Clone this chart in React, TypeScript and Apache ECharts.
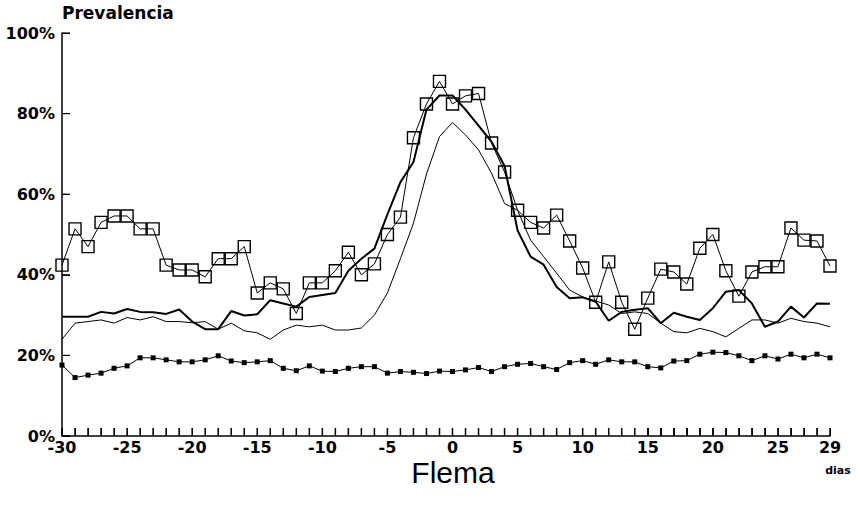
import React, { useEffect, useRef } from "react";
import * as echarts from "echarts";

const days = [-30,-29,-28,-27,-26,-25,-24,-23,-22,-21,-20,-19,-18,-17,-16,-15,-14,-13,-12,-11,-10,-9,-8,-7,-6,-5,-4,-3,-2,-1,0,1,2,3,4,5,6,7,8,9,10,11,12,13,14,15,16,17,18,19,20,21,22,23,24,25,26,27,28,29];

const squareValues = [42.4,51.4,47,53,54.6,54.6,51.4,51.4,42.4,41.2,41.2,39.5,44,44,47,35.5,38,36.5,30.4,38,38,41,45.6,40,42.7,50,54.3,74,82.4,88,82.4,84.4,85,72.7,65.5,56,53,51.6,54.8,48.4,41.7,33.2,43.2,33.2,26.5,34.2,41.4,40.7,37.7,46.6,50,41,34.7,40.7,42,42,51.6,48.6,48.4,42.2];

const thickValues = [29.6,29.6,29.6,30.8,30.4,31.5,30.8,30.7,30.3,31.4,28.4,26.5,26.5,31,29.9,30.2,33.7,32.9,32.1,34.5,35,35.5,41,44,46.5,55,63,68,81,84.5,84.5,81,77,73,67,51,44.5,42.5,37,34.2,34.4,33.3,28.6,30.8,31.3,31.7,28,30.6,29.6,28.8,31.7,35.8,36.2,32.9,27.1,28.4,32.1,29.4,32.9,32.8];

const thinValues = [24,28,28.4,28.8,28,29.4,28.8,29.6,28.4,28.4,28.1,28.4,26.5,28,26.1,25.6,24,26.3,27.5,27.1,27.5,26.3,26.3,26.8,30,35.5,44,52.8,65,74.3,77.8,74.7,71,65.2,57.7,56,48.6,44.5,40.4,36.2,34.5,33.5,32.5,30.4,30.8,30.4,28,25.9,25.6,26.7,25.9,24.6,26.7,28.8,28.8,28,29.2,28.4,28,27.1];

const filledValues = [17.6,14.5,15.1,15.6,16.8,17.4,19.4,19.4,18.9,18.4,18.4,18.9,19.9,18.6,18.2,18.4,18.7,16.8,16.2,17.4,16.1,16,16.8,17.2,17.2,15.6,16,15.8,15.5,16.1,16,16.4,17,16,17.2,17.8,18,17.2,16.5,18.2,18.7,17.8,18.9,18.4,18.4,17.2,16.9,18.6,18.7,20.3,20.8,20.7,19.9,18.7,19.9,19.1,20.3,19.4,20.3,19.4];

const xLabelDays = [-30,-25,-20,-15,-10,-5,0,5,10,15,20,25,29];
const yTicks = [0,20,40,60,80,100];

const pairs = (vals: number[]) => days.map((d, i) => [d, vals[i]]);

export default function App() {
  const ref = useRef<HTMLDivElement>(null);
  useEffect(() => {
    if (!ref.current) return;
    const chart = echarts.init(ref.current, null, { renderer: "svg" });
    const labelFont = { fontFamily: "DejaVu Sans", fontWeight: "bold" as const, fontSize: 16, color: "#000" };
    const TICK = 8;
    chart.setOption({
      animation: false,
      backgroundColor: "#fff",
      grid: { left: 62, right: 30, top: 33, bottom: 69, containLabel: false },
      xAxis: {
        type: "value",
        min: -30,
        max: 29,
        interval: 1,
        splitLine: { show: false },
        axisLine: { show: true, onZero: false, lineStyle: { color: "#000", width: 1.5 } },
        axisTick: { show: true, inside: true, length: 8 },
        axisLabel: {
          ...labelFont,
          lineHeight: 13,
          margin: 5,
          showMinLabel: true,
          showMaxLabel: true,
          formatter: (v: number) => (xLabelDays.indexOf(v) >= 0 ? String(v) : ""),
        },
      },
      yAxis: {
        type: "value",
        min: 0,
        max: 100,
        interval: 20,
        splitLine: { show: false },
        axisLine: { show: true, onZero: false, lineStyle: { color: "#000", width: 1.5 } },
        axisTick: { show: true, inside: true, length: 8 },
        axisLabel: {
          ...labelFont,
          lineHeight: 12,
          margin: 7,
          formatter: (v: number) => (yTicks.indexOf(v) >= 0 ? v + "%" : ""),
        },
      },
      graphic: [
        {
          type: "text",
          left: 62,
          top: 4,
          style: { text: "Prevalencia", fontFamily: "DejaVu Sans", fontWeight: "bold", fontSize: 17, fill: "#000" },
        },
        {
          type: "text",
          x: 453,
          y: 472,
          style: { text: "Flema", fontFamily: "Liberation Sans", fontSize: 30, fill: "#000", align: "center", verticalAlign: "middle" },
        },
        {
          type: "text",
          x: 838,
          y: 470,
          style: { text: "dias", fontFamily: "DejaVu Sans", fontWeight: "bold", fontSize: 11, fill: "#000", align: "center", verticalAlign: "middle" },
        },
      ],
      series: [
        {
          type: "custom",
          silent: true,
          clip: false,
          z: 6,
          data: days.map((d) => [d, 0]),
          renderItem: (_params: any, api: any) => {
            const p = api.coord([api.value(0), api.value(1)]);
            return {
              type: "rect",
              shape: { x: p[0] - 0.75, y: p[1] - TICK, width: 1.5, height: TICK },
              style: { fill: "#000" },
            };
          },
        },
        {
          type: "custom",
          silent: true,
          clip: false,
          z: 6,
          data: yTicks.map((v) => [days[0], v]),
          renderItem: (_params: any, api: any) => {
            const p = api.coord([api.value(0), api.value(1)]);
            return {
              type: "rect",
              shape: { x: p[0], y: p[1] - 0.6, width: TICK, height: 1.2 },
              style: { fill: "#000" },
            };
          },
        },
        {
          type: "line",
          data: pairs(thinValues),
          symbol: "none",
          lineStyle: { color: "#000", width: 1 },
          z: 2,
        },
        {
          type: "line",
          data: pairs(thickValues),
          symbol: "none",
          lineStyle: { color: "#000", width: 2 },
          z: 3,
        },
        {
          type: "line",
          data: pairs(filledValues),
          symbol: "rect",
          symbolSize: 5,
          itemStyle: { color: "#000" },
          lineStyle: { color: "#000", width: 1 },
          z: 4,
        },
        {
          type: "line",
          data: pairs(squareValues),
          symbol: "rect",
          symbolSize: 12,
          showAllSymbol: true,
          itemStyle: { color: "rgba(255,255,255,0)", borderColor: "#000", borderWidth: 1.4 },
          lineStyle: { color: "#000", width: 1 },
          z: 5,
        },
      ],
    });
    return () => chart.dispose();
  }, []);
  return <div ref={ref} style={{ position: "fixed", left: 0, top: 0, width: 860, height: 505 }} />;
}
